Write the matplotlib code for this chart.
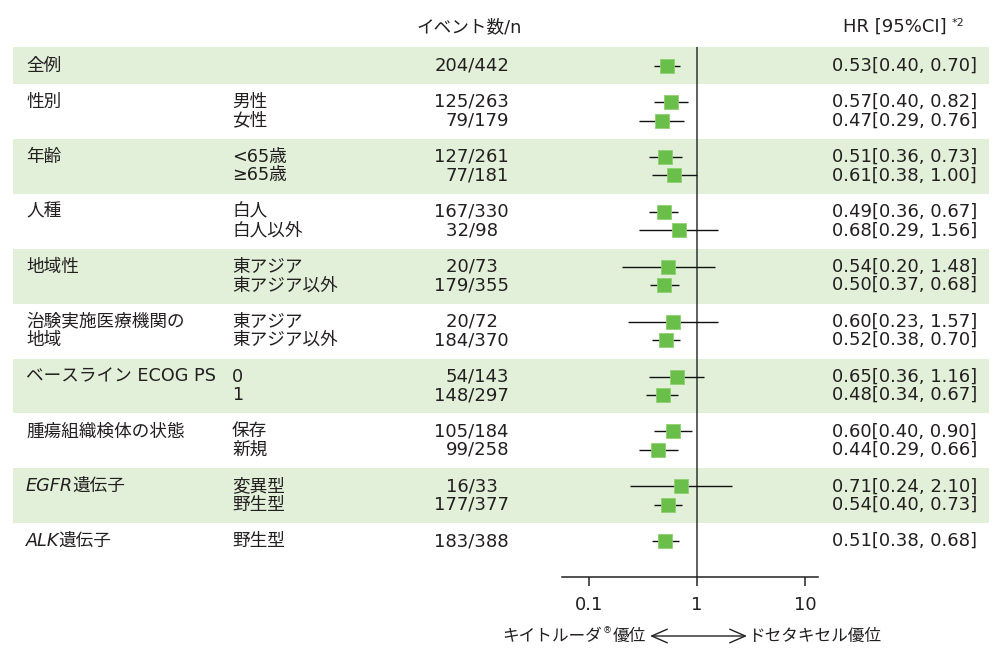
import numpy as np
import matplotlib
matplotlib.use("Agg")
import matplotlib.pyplot as plt

plt.rcParams['font.family'] = ['DejaVu Sans', 'Noto Sans CJK JP']

# データ
group_italic = ['', '', '', '', '', '', '', '', 'EGFR', 'ALK']
group_label = ['全例', '性別', '年齢', '人種', '地域性', '治験実施医療機関の\n地域',
               'ベースライン ECOG PS', '腫瘍組織検体の状態', '遺伝子', '遺伝子']
sub_label = [[''], ['男性', '女性'], ['<65歳', '≥65歳'], ['白人', '白人以外'],
             ['東アジア', '東アジア以外'], ['東アジア', '東アジア以外'], ['0', '1'],
             ['保存', '新規'], ['変異型', '野生型'], ['野生型']]
events = [204, 125, 79, 127, 77, 167, 32, 20, 179, 20, 184, 54, 148, 105, 99, 16, 177, 183]
n_pts = [442, 263, 179, 261, 181, 330, 98, 73, 355, 72, 370, 143, 297, 184, 258, 33, 377, 388]
hr = [0.53, 0.57, 0.47, 0.51, 0.61, 0.49, 0.68, 0.54, 0.50, 0.60, 0.52, 0.65, 0.48, 0.60, 0.44, 0.71, 0.54, 0.51]
ci_lo = [0.40, 0.40, 0.29, 0.36, 0.38, 0.36, 0.29, 0.20, 0.37, 0.23, 0.38, 0.36, 0.34, 0.40, 0.29, 0.24, 0.40, 0.38]
ci_hi = [0.70, 0.82, 0.76, 0.73, 1.00, 0.67, 1.56, 1.48, 0.68, 1.57, 0.70, 1.16, 0.67, 0.90, 0.66, 2.10, 0.73, 0.68]
ticks = [0.1, 1, 10]
tick_labels = ['0.1', '1', '10']

# 色など
band_col = '#e2f0da'
sq_col = '#6abf4b'
txt_col = '#231f20'
fs = 12.7      # 日本語
fs_num = 13    # 数字
fs_bot = 12    # 下の説明

# レイアウト (ピクセル単位, 上から)
H = 662
grp_h = 54.9
def grp_top(k):
    return 47 if k == 0 else 84 + grp_h * (k - 1)

row_y = []
for k, subs in enumerate(sub_label):
    for j in range(len(subs)):
        if k == 0:
            row_y.append(66)
        else:
            row_y.append(grp_top(k) + 18 + 18.5 * j)

fig = plt.figure(figsize=(10, 6.62), dpi=100)
bg = fig.add_axes([0, 0, 1, 1])
bg.set_xlim(0, 1000)
bg.set_ylim(H, 0)
bg.axis('off')

# 背景の帯
for k in range(0, len(sub_label) - 1, 2):
    top = grp_top(k)
    bot = 84 if k == 0 else top + grp_h
    bg.barh((top + bot) / 2, 976, left=13, height=bot - top, color=band_col, zorder=0)

# 見出し
bg.text(469, 27, 'イベント数/n', ha='center', va='center', fontsize=fs, color=txt_col)
hdr = bg.text(947, 27, 'HR [95%CI]', ha='right', va='center', fontsize=fs_num, color=txt_col)
bg.annotate('*2', xy=(1, 0.72), xycoords=hdr, xytext=(3, 0), textcoords='offset points',
            ha='left', va='center', fontsize=8, color=txt_col)

# 左の列
i = 0
for k, subs in enumerate(sub_label):
    lines = group_label[k].split('\n')
    for j, line in enumerate(lines):
        y = row_y[i] + 18.5 * j
        if j == 0 and group_italic[k]:
            t = bg.text(26, y, group_italic[k], style='italic', ha='left', va='center',
                        fontsize=fs, color=txt_col)
            bg.annotate(line, xy=(1, 0.5), xycoords=t, xytext=(-0.5, 0), textcoords='offset points',
                        ha='left', va='center', fontsize=fs, color=txt_col)
        else:
            bg.text(26, y, line, ha='left', va='center', fontsize=fs, color=txt_col)
    for j, s in enumerate(subs):
        bg.text(232, row_y[i + j], s, ha='left', va='center', fontsize=fs, color=txt_col)
    i += len(subs)

# イベント数 と HR
for r in range(len(row_y)):
    s = str(events[r]) + '/' + str(n_pts[r])
    if len(s) < 6:
        s = s + '\u2007'
    bg.text(509, row_y[r], s, ha='right', va='center', fontsize=fs_num, color=txt_col)
    bg.text(977, row_y[r], f'{hr[r]:.2f}[{ci_lo[r]:.2f}, {ci_hi[r]:.2f}]',
            ha='right', va='center', fontsize=fs_num, color=txt_col)

# フォレストプロット
ax = fig.add_axes([562 / 1000, 1 - 577 / H, 256 / 1000, (577 - 47) / H])
ax.patch.set_alpha(0)
ax.set_xscale('log')
ax.set_xlim(10 ** -1.25, 10 ** 1.1204)
ax.set_ylim(577, 47)
for sp in ['left', 'right', 'top']:
    ax.spines[sp].set_visible(False)
ax.spines['bottom'].set_color('#222222')
ax.spines['bottom'].set_linewidth(1.1)
ax.set_yticks([])
ax.set_xticks(ticks)
ax.set_xticklabels(tick_labels)
ax.xaxis.set_minor_locator(matplotlib.ticker.NullLocator())
ax.tick_params(axis='x', direction='out', length=6.5, width=1.1, color='#222222',
               pad=7.5, labelsize=fs_num, labelcolor=txt_col)
ax.axvline(1, color='#333333', lw=1.1, zorder=1)
ax.hlines(row_y, ci_lo, ci_hi, color='#111111', lw=1.0, zorder=2)
ax.plot(hr, row_y, 's', color=sq_col, markersize=9.8, markeredgewidth=0.6,
        markeredgecolor='#8fd070', zorder=3, linestyle='none')

# 下の説明
ty = bg.text(646, 636, '優位', ha='right', va='center', fontsize=fs_bot, color=txt_col)
tr = bg.annotate('®', xy=(0, 0.8), xycoords=ty, xytext=(-0.5, 0), textcoords='offset points',
                 ha='right', va='center', fontsize=6.5, color=txt_col)
bg.annotate('キイトルーダ', xy=(0, 0.5), xycoords=(tr, ty), xytext=(-0.5, 0),
            textcoords='offset points', ha='right', va='center', fontsize=fs_bot, color=txt_col)
bg.annotate('', xy=(650, 636), xytext=(747, 636),
            arrowprops=dict(arrowstyle='<->, head_length=0.8, head_width=0.35', lw=1.0,
                            color='#222222', shrinkA=0, shrinkB=0, mutation_scale=14))
bg.text(748, 636, 'ドセタキセル優位', ha='left', va='center', fontsize=fs_bot, color=txt_col)

fig.savefig('out.png', dpi=100)
